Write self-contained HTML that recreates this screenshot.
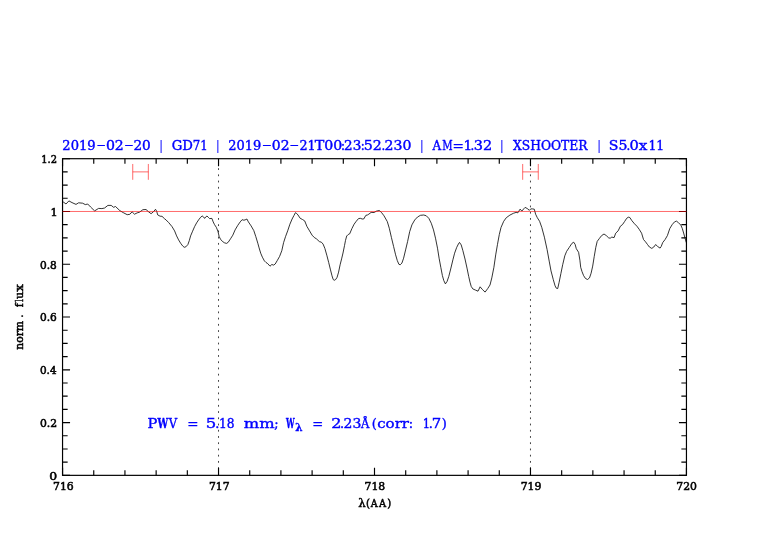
<!DOCTYPE html>
<html lang="en"><head><meta charset="utf-8"><title>GD71 XSHOOTER spectrum 716-720 nm</title>
<style>html,body{margin:0;padding:0;background:#ffffff;overflow:hidden}svg{display:block}text{white-space:pre}</style>
</head><body>
<svg width="782" height="542" viewBox="0 0 782 542">
<rect x="0" y="0" width="782" height="542" fill="#ffffff"/>
<g stroke="#222" stroke-width="0.85" stroke-dasharray="1.8 4.43" fill="none">
<line x1="218.53" y1="161.94" x2="218.53" y2="475.35"/>
<line x1="530.48" y1="161.94" x2="530.48" y2="475.35"/>
</g>
<polyline fill="none" stroke="#000" stroke-width="0.8" stroke-linejoin="round" points="62.6,201.9 63.6,202.2 66.0,204.0 68.9,200.9 72.0,202.6 76.0,204.4 78.6,202.8 82.6,203.2 85.3,204.6 87.7,204.0 90.6,207.0 94.6,210.9 98.6,208.4 101.9,208.6 104.6,208.0 107.9,205.4 111.2,205.4 113.6,207.3 115.5,206.5 119.8,210.6 123.2,212.6 127.2,214.7 129.8,214.3 132.1,211.8 134.5,214.2 137.1,212.9 139.5,212.2 142.9,209.7 146.0,209.5 148.7,211.9 151.1,213.7 153.5,211.7 155.5,209.3 156.7,211.3 157.7,214.9 160.1,216.2 162.0,216.3 164.4,218.6 166.0,219.9 168.7,222.6 172.0,226.6 174.6,230.9 176.6,235.9 178.6,239.9 180.6,243.2 182.6,245.9 184.2,247.3 185.9,246.8 187.9,244.5 189.3,240.6 190.6,235.9 192.6,231.2 194.6,226.6 196.6,222.9 198.6,219.9 200.6,217.3 202.2,216.0 203.2,216.6 204.6,218.4 205.6,217.0 207.0,216.0 208.3,217.3 209.6,218.6 211.9,218.4 213.2,221.9 214.5,224.6 216.3,227.3 217.9,231.2 219.2,236.6 220.5,239.2 222.5,241.5 224.5,242.8 226.5,243.4 228.2,242.3 230.5,238.8 232.8,235.2 235.1,229.9 237.8,225.3 240.2,221.9 242.1,219.7 243.8,220.2 245.1,219.9 246.9,219.0 248.4,221.9 251.1,225.9 253.8,230.6 255.8,236.6 257.8,243.2 259.1,247.9 260.7,253.2 262.4,257.2 264.4,260.9 266.0,262.5 267.7,263.6 270.0,266.2 271.8,264.5 273.7,265.1 275.2,264.0 277.4,260.3 279.6,256.4 281.8,250.7 283.6,242.6 285.5,236.7 287.7,230.8 289.9,224.2 292.1,219.0 293.9,215.6 295.4,212.7 296.6,213.4 298.0,215.0 300.2,218.3 302.5,219.5 304.7,220.9 306.9,226.4 309.1,230.1 312.1,235.2 314.3,237.5 316.5,238.9 319.4,241.6 321.4,242.2 323.1,244.1 324.9,248.5 326.8,255.2 328.7,262.5 330.5,269.9 332.0,275.8 333.2,279.5 334.2,280.3 335.7,279.5 337.1,277.3 338.6,272.1 340.1,264.8 341.6,258.9 343.0,253.0 344.5,245.6 345.5,240.4 346.7,236.0 348.2,234.5 349.7,233.8 351.9,228.6 354.1,224.2 356.3,221.2 358.5,218.6 360.3,218.3 362.2,219.0 363.7,219.0 365.9,215.3 367.4,215.0 368.9,214.1 371.1,212.4 374.0,212.5 376.5,211.1 379.3,210.5 381.5,212.5 384.0,215.8 387.3,221.6 389.3,228.3 391.4,237.4 393.6,246.5 395.6,254.8 397.3,260.6 398.9,264.3 400.2,264.8 401.9,263.1 403.6,258.2 405.6,249.9 407.6,241.5 409.7,231.6 411.9,224.9 414.7,220.0 417.5,217.0 420.5,215.3 423.8,215.0 426.3,215.8 428.8,218.3 431.3,223.3 433.5,229.9 435.5,238.2 437.5,248.2 439.1,258.2 440.8,267.3 442.4,275.6 443.8,280.6 445.4,283.9 447.1,281.4 448.8,276.4 450.7,269.0 452.9,259.8 454.6,253.2 456.7,247.4 458.4,244.0 459.5,242.4 461.2,244.9 462.9,250.7 465.0,259.0 467.0,268.1 468.7,276.4 470.0,282.2 471.2,286.4 472.8,288.9 475.3,290.0 478.0,291.2 480.1,286.8 482.4,289.5 485.1,292.1 487.7,288.6 490.0,285.0 491.8,277.9 493.9,267.3 495.7,254.9 497.5,244.3 499.3,234.5 501.0,227.5 503.7,221.3 506.3,217.7 509.9,215.1 513.4,213.3 516.1,212.4 517.9,212.8 520.0,209.2 521.9,211.0 523.7,208.9 525.1,207.4 527.2,208.5 529.4,210.3 530.8,208.9 532.6,208.9 534.3,209.2 535.6,214.2 537.3,217.7 539.6,221.3 541.8,227.5 544.4,237.2 547.1,249.6 549.2,261.1 551.0,270.9 553.3,279.7 555.1,285.9 556.3,288.2 557.7,288.6 559.1,282.4 560.9,273.5 562.7,264.7 564.8,255.8 566.6,251.4 569.2,247.5 571.9,243.4 573.7,242.2 575.1,244.3 576.3,248.7 578.6,252.3 579.9,260.2 580.7,267.3 582.0,271.6 583.6,275.6 585.4,278.4 587.5,279.5 589.5,277.9 591.1,273.2 592.7,266.1 594.2,256.7 595.8,247.3 597.2,241.4 599.2,238.7 601.6,235.6 604.0,234.0 606.3,235.6 608.7,237.9 610.2,238.2 611.8,237.1 614.1,237.6 615.7,233.2 618.1,230.9 620.4,226.2 622.5,224.6 624.6,221.5 626.7,218.3 628.3,217.2 629.8,217.5 631.9,220.7 634.5,223.8 636.9,226.2 639.2,229.3 641.6,233.2 643.5,239.5 645.5,241.8 647.5,244.5 649.4,247.0 651.8,248.4 653.8,247.0 655.7,244.5 657.6,246.5 660.1,248.1 661.2,246.5 662.7,242.6 665.1,239.5 667.4,235.6 669.8,228.5 672.2,224.6 674.5,221.9 676.4,221.1 678.4,222.6 680.8,225.1 682.3,228.5 683.9,234.0 685.2,238.7 686.3,242.6"/>
<rect x="62.55" y="158.70" width="623.90" height="316.65" fill="none" stroke="#000" stroke-width="1.18"/>
<path d="M62.55 158.70v7.6M62.55 475.35v-7.6M93.75 158.70v5.0M93.75 475.35v-5.0M124.94 158.70v5.0M124.94 475.35v-5.0M156.14 158.70v5.0M156.14 475.35v-5.0M187.33 158.70v5.0M187.33 475.35v-5.0M218.53 158.70v7.6M218.53 475.35v-7.6M249.72 158.70v5.0M249.72 475.35v-5.0M280.91 158.70v5.0M280.91 475.35v-5.0M312.11 158.70v5.0M312.11 475.35v-5.0M343.30 158.70v5.0M343.30 475.35v-5.0M374.50 158.70v7.6M374.50 475.35v-7.6M405.70 158.70v5.0M405.70 475.35v-5.0M436.89 158.70v5.0M436.89 475.35v-5.0M468.09 158.70v5.0M468.09 475.35v-5.0M499.28 158.70v5.0M499.28 475.35v-5.0M530.48 158.70v7.6M530.48 475.35v-7.6M561.67 158.70v5.0M561.67 475.35v-5.0M592.86 158.70v5.0M592.86 475.35v-5.0M624.06 158.70v5.0M624.06 475.35v-5.0M655.25 158.70v5.0M655.25 475.35v-5.0M686.45 158.70v7.6M686.45 475.35v-7.6M62.55 475.35h7.5M686.45 475.35h-7.5M62.55 462.16h5.1M686.45 462.16h-5.1M62.55 448.96h5.1M686.45 448.96h-5.1M62.55 435.77h5.1M686.45 435.77h-5.1M62.55 422.57h7.5M686.45 422.57h-7.5M62.55 409.38h5.1M686.45 409.38h-5.1M62.55 396.19h5.1M686.45 396.19h-5.1M62.55 382.99h5.1M686.45 382.99h-5.1M62.55 369.80h7.5M686.45 369.80h-7.5M62.55 356.61h5.1M686.45 356.61h-5.1M62.55 343.41h5.1M686.45 343.41h-5.1M62.55 330.22h5.1M686.45 330.22h-5.1M62.55 317.02h7.5M686.45 317.02h-7.5M62.55 303.83h5.1M686.45 303.83h-5.1M62.55 290.64h5.1M686.45 290.64h-5.1M62.55 277.44h5.1M686.45 277.44h-5.1M62.55 264.25h7.5M686.45 264.25h-7.5M62.55 251.06h5.1M686.45 251.06h-5.1M62.55 237.86h5.1M686.45 237.86h-5.1M62.55 224.67h5.1M686.45 224.67h-5.1M62.55 211.47h7.5M686.45 211.47h-7.5M62.55 198.28h5.1M686.45 198.28h-5.1M62.55 185.09h5.1M686.45 185.09h-5.1M62.55 171.89h5.1M686.45 171.89h-5.1M62.55 158.70h7.5M686.45 158.70h-7.5" fill="none" stroke="#000" stroke-width="1.15"/>
<g stroke="#ff0000" stroke-width="0.95" stroke-opacity="0.62" fill="none">
<line x1="62.55" y1="211.47" x2="686.45" y2="211.47"/>
<path d="M132.74 163.98V179.81M148.34 163.98V179.81M132.74 171.89H148.34"/>
<path d="M522.68 163.98V179.81M538.27 163.98V179.81M522.68 171.89H538.27"/>
</g>
<g opacity="0.999">
<text font-family="'DejaVu Serif','Liberation Serif',serif" font-size="10.6" fill="#000" y="162.95" stroke="#000" stroke-width="0.55" ><tspan x="41.22" textLength="15.77" lengthAdjust="spacingAndGlyphs">1.2</tspan></text>
<text font-family="'DejaVu Serif','Liberation Serif',serif" font-size="10.6" fill="#000" y="215.72" stroke="#000" stroke-width="0.55" ><tspan x="50.47" textLength="7.17" lengthAdjust="spacingAndGlyphs">1</tspan></text>
<text font-family="'DejaVu Serif','Liberation Serif',serif" font-size="10.6" fill="#000" y="268.5" stroke="#000" stroke-width="0.55" ><tspan x="39.94" textLength="16.83" lengthAdjust="spacingAndGlyphs">0.8</tspan></text>
<text font-family="'DejaVu Serif','Liberation Serif',serif" font-size="10.6" fill="#000" y="321.27" stroke="#000" stroke-width="0.55" ><tspan x="39.94" textLength="16.83" lengthAdjust="spacingAndGlyphs">0.6</tspan></text>
<text font-family="'DejaVu Serif','Liberation Serif',serif" font-size="10.6" fill="#000" y="374.05" stroke="#000" stroke-width="0.55" ><tspan x="39.95" textLength="16.65" lengthAdjust="spacingAndGlyphs">0.4</tspan></text>
<text font-family="'DejaVu Serif','Liberation Serif',serif" font-size="10.6" fill="#000" y="426.82" stroke="#000" stroke-width="0.55" ><tspan x="39.92" textLength="17.19" lengthAdjust="spacingAndGlyphs">0.2</tspan></text>
<text font-family="'DejaVu Serif','Liberation Serif',serif" font-size="10.6" fill="#000" y="479.6" stroke="#000" stroke-width="0.55" ><tspan x="49.22" textLength="7.90" lengthAdjust="spacingAndGlyphs">0</tspan></text>
<text font-family="'DejaVu Serif','Liberation Serif',serif" font-size="10.6" fill="#000" y="490.3" stroke="#000" stroke-width="0.55" ><tspan x="53.05" textLength="20.68" lengthAdjust="spacingAndGlyphs">716</tspan></text>
<text font-family="'DejaVu Serif','Liberation Serif',serif" font-size="10.6" fill="#000" y="490.3" stroke="#000" stroke-width="0.55" ><tspan x="208.95" textLength="20.68" lengthAdjust="spacingAndGlyphs">717</tspan></text>
<text font-family="'DejaVu Serif','Liberation Serif',serif" font-size="10.6" fill="#000" y="490.3" stroke="#000" stroke-width="0.55" ><tspan x="364.50" textLength="20.68" lengthAdjust="spacingAndGlyphs">718</tspan></text>
<text font-family="'DejaVu Serif','Liberation Serif',serif" font-size="10.6" fill="#000" y="490.3" stroke="#000" stroke-width="0.55" ><tspan x="520.65" textLength="20.68" lengthAdjust="spacingAndGlyphs">719</tspan></text>
<text font-family="'DejaVu Serif','Liberation Serif',serif" font-size="10.6" fill="#000" y="490.3" stroke="#000" stroke-width="0.55" ><tspan x="676.30" textLength="20.68" lengthAdjust="spacingAndGlyphs">720</tspan></text>
<text font-family="'DejaVu Serif','Liberation Serif',serif" font-size="12.5" fill="#0000ff" y="150.0" stroke="#0000ff" stroke-width="0.4" ><tspan x="62.38" textLength="33.28" lengthAdjust="spacingAndGlyphs">2019</tspan><tspan x="95.95" textLength="10.30" lengthAdjust="spacingAndGlyphs" dy="-0.6" stroke="none">-</tspan><tspan x="105.92" textLength="17.94" lengthAdjust="spacingAndGlyphs" dy="0.6">02</tspan><tspan x="123.84" textLength="10.43" lengthAdjust="spacingAndGlyphs" dy="-0.6" stroke="none">-</tspan><tspan x="133.45" textLength="17.34" lengthAdjust="spacingAndGlyphs" dy="0.6">20</tspan><tspan> </tspan><tspan x="158.95" textLength="4.21" lengthAdjust="spacingAndGlyphs" stroke="none">|</tspan><tspan> </tspan><tspan x="171.78" textLength="21.21" lengthAdjust="spacingAndGlyphs">GD</tspan><tspan x="192.68" textLength="14.91" lengthAdjust="spacingAndGlyphs">71</tspan><tspan> </tspan><tspan x="215.85" textLength="4.21" lengthAdjust="spacingAndGlyphs" stroke="none">|</tspan><tspan> </tspan><tspan x="228.19" textLength="32.96" lengthAdjust="spacingAndGlyphs">2019</tspan><tspan x="261.40" textLength="10.81" lengthAdjust="spacingAndGlyphs" dy="-0.6" stroke="none">-</tspan><tspan x="271.83" textLength="17.71" lengthAdjust="spacingAndGlyphs" dy="0.6">02</tspan><tspan x="289.02" textLength="10.56" lengthAdjust="spacingAndGlyphs" dy="-0.6" stroke="none">-</tspan><tspan x="299.50" textLength="16.24" lengthAdjust="spacingAndGlyphs" dy="0.6">21</tspan><tspan x="314.80" textLength="9.53" lengthAdjust="spacingAndGlyphs">T</tspan><tspan x="324.22" textLength="18.01" lengthAdjust="spacingAndGlyphs">00</tspan><tspan x="341.10" textLength="4.00" lengthAdjust="spacingAndGlyphs">:</tspan><tspan x="344.05" textLength="17.25" lengthAdjust="spacingAndGlyphs">23</tspan><tspan x="360.75" textLength="4.00" lengthAdjust="spacingAndGlyphs">:</tspan><tspan x="363.69" textLength="18.08" lengthAdjust="spacingAndGlyphs">52</tspan><tspan x="381.55" textLength="3.77" lengthAdjust="spacingAndGlyphs">.</tspan><tspan x="384.62" textLength="26.90" lengthAdjust="spacingAndGlyphs">230</tspan><tspan> </tspan><tspan x="419.75" textLength="4.21" lengthAdjust="spacingAndGlyphs" stroke="none">|</tspan><tspan> </tspan><tspan x="432.49" textLength="8.67" lengthAdjust="spacingAndGlyphs">A</tspan><tspan x="442.32" textLength="10.38" lengthAdjust="spacingAndGlyphs">M</tspan><tspan x="452.53" textLength="11.38" lengthAdjust="spacingAndGlyphs">=</tspan><tspan x="463.49" textLength="8.80" lengthAdjust="spacingAndGlyphs">1</tspan><tspan x="470.45" textLength="3.77" lengthAdjust="spacingAndGlyphs">.</tspan><tspan x="473.80" textLength="18.40" lengthAdjust="spacingAndGlyphs">32</tspan><tspan> </tspan><tspan x="499.65" textLength="4.21" lengthAdjust="spacingAndGlyphs" stroke="none">|</tspan><tspan> </tspan><tspan x="513.00" textLength="74.45" lengthAdjust="spacingAndGlyphs">XSHOOTER</tspan><tspan> </tspan><tspan x="597.05" textLength="4.21" lengthAdjust="spacingAndGlyphs" stroke="none">|</tspan><tspan> </tspan><tspan x="608.80" textLength="18.64" lengthAdjust="spacingAndGlyphs">S5</tspan><tspan x="626.60" textLength="3.77" lengthAdjust="spacingAndGlyphs">.</tspan><tspan x="629.49" textLength="9.25" lengthAdjust="spacingAndGlyphs">0</tspan><tspan x="638.70" textLength="8.62" lengthAdjust="spacingAndGlyphs">x</tspan><tspan x="648.44" textLength="15.86" lengthAdjust="spacingAndGlyphs">11</tspan></text>
<text font-family="'DejaVu Serif','Liberation Serif',serif" font-size="13.6" fill="#0000ff" y="427.7" stroke="#0000ff" stroke-width="0.4" ><tspan x="147.51" textLength="9.86" lengthAdjust="spacingAndGlyphs">P</tspan><tspan x="157.55" textLength="10.68" lengthAdjust="spacingAndGlyphs" font-weight="bold">W</tspan><tspan x="168.68" textLength="8.39" lengthAdjust="spacingAndGlyphs">V</tspan><tspan> </tspan><tspan x="187.14" textLength="11.25" lengthAdjust="spacingAndGlyphs">=</tspan><tspan> </tspan><tspan x="205.71" textLength="10.51" lengthAdjust="spacingAndGlyphs">5</tspan><tspan x="215.33" textLength="4.11" lengthAdjust="spacingAndGlyphs">.</tspan><tspan x="219.06" textLength="15.55" lengthAdjust="spacingAndGlyphs">18</tspan><tspan> </tspan><tspan x="243.89" textLength="30.84" lengthAdjust="spacingAndGlyphs">mm</tspan><tspan x="274.18" textLength="4.35" lengthAdjust="spacingAndGlyphs">;</tspan><tspan> </tspan><tspan x="286.12" textLength="8.64" lengthAdjust="spacingAndGlyphs" font-weight="bold">W</tspan><tspan x="295.37" textLength="7.33" lengthAdjust="spacingAndGlyphs" dy="3.4" font-size="11" font-weight="bold">λ</tspan><tspan dy="-3.4"> </tspan><tspan x="312.17" textLength="10.99" lengthAdjust="spacingAndGlyphs">=</tspan><tspan> </tspan><tspan x="331.19" textLength="10.25" lengthAdjust="spacingAndGlyphs">2</tspan><tspan x="340.08" textLength="4.11" lengthAdjust="spacingAndGlyphs">.</tspan><tspan x="343.63" textLength="17.81" lengthAdjust="spacingAndGlyphs">23</tspan><tspan x="360.88" textLength="8.38" lengthAdjust="spacingAndGlyphs">Å</tspan><tspan x="371.78" textLength="5.04" lengthAdjust="spacingAndGlyphs">(</tspan><tspan x="377.20" textLength="31.81" lengthAdjust="spacingAndGlyphs">corr</tspan><tspan x="408.68" textLength="4.35" lengthAdjust="spacingAndGlyphs">:</tspan><tspan> </tspan><tspan x="422.64" textLength="7.33" lengthAdjust="spacingAndGlyphs">1</tspan><tspan x="428.68" textLength="4.11" lengthAdjust="spacingAndGlyphs">.</tspan><tspan x="431.74" textLength="9.42" lengthAdjust="spacingAndGlyphs">7</tspan><tspan x="441.73" textLength="5.04" lengthAdjust="spacingAndGlyphs">)</tspan></text>
<text font-family="'DejaVu Serif','Liberation Serif',serif" font-size="11" fill="#000" y="0" stroke="#000" stroke-width="0.5" transform="translate(23.1 0) rotate(-90)" ><tspan x="-349.84" textLength="28.92" lengthAdjust="spacingAndGlyphs">norm</tspan><tspan x="-317.81" textLength="3.32" lengthAdjust="spacingAndGlyphs">.</tspan><tspan> </tspan><tspan x="-307.14" textLength="4.01" lengthAdjust="spacingAndGlyphs">f</tspan><tspan x="-301.82" textLength="2.50" lengthAdjust="spacingAndGlyphs">l</tspan><tspan x="-299.07" textLength="7.05" lengthAdjust="spacingAndGlyphs">u</tspan><tspan x="-291.70" textLength="7.72" lengthAdjust="spacingAndGlyphs">x</tspan></text>
<text font-family="'DejaVu Serif','Liberation Serif',serif" font-size="10.8" fill="#000" y="506.7" stroke="#000" stroke-width="0.5" ><tspan x="358.33" textLength="7.45" lengthAdjust="spacingAndGlyphs">λ</tspan><tspan x="366.07" textLength="4.00" lengthAdjust="spacingAndGlyphs">(</tspan><tspan x="370.85" textLength="6.93" lengthAdjust="spacingAndGlyphs">A</tspan><tspan x="379.05" textLength="7.13" lengthAdjust="spacingAndGlyphs">A</tspan><tspan x="387.13" textLength="4.00" lengthAdjust="spacingAndGlyphs">)</tspan></text>
</g>
</svg>
</body></html>
